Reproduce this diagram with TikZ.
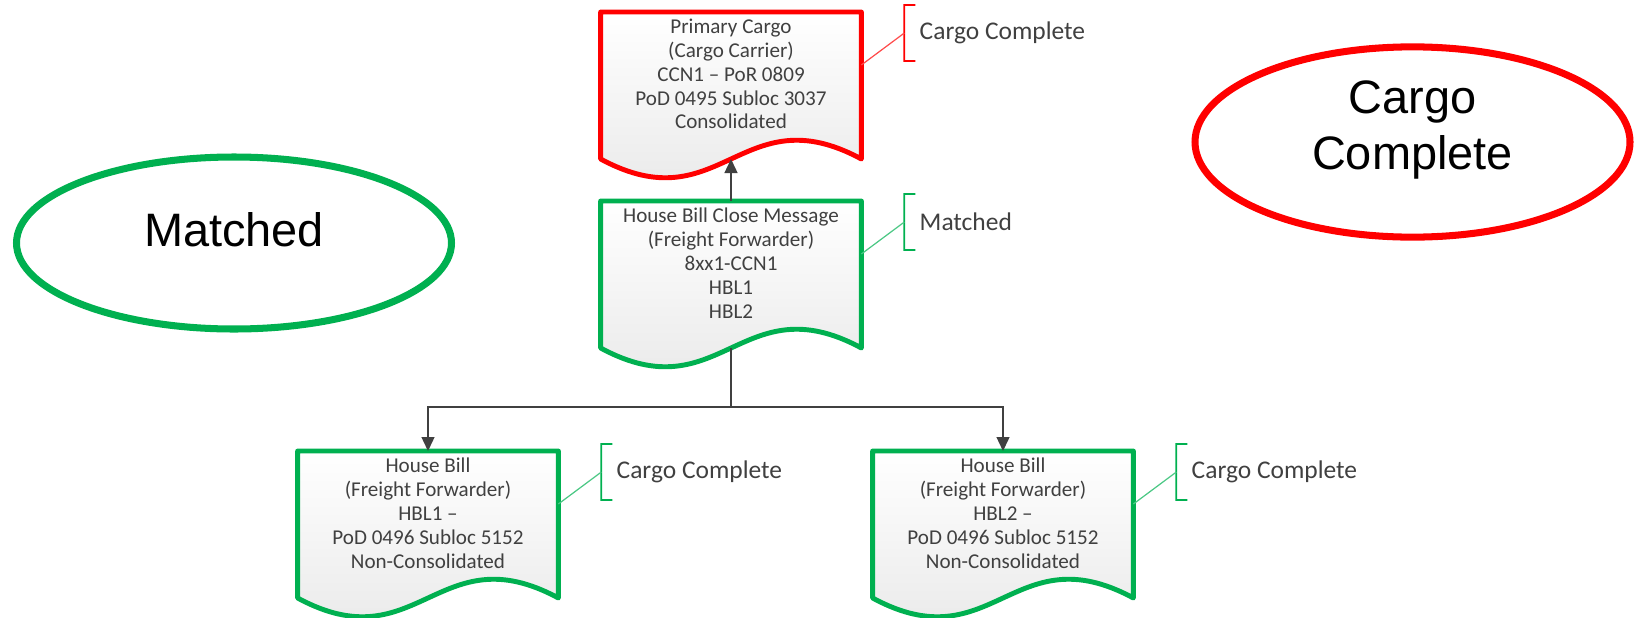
\documentclass[tikz,border=0pt]{standalone}
\usepackage{fontspec}
\setmainfont{Carlito}
\newfontfamily\arialfont{Liberation Sans}
\usetikzlibrary{arrows.meta, positioning, shapes.geometric, backgrounds}
\definecolor{cbgreen}{RGB}{0,176,80}
\definecolor{cbred}{RGB}{255,0,0}
\definecolor{cbgray}{RGB}{64,64,64}
\definecolor{cbfill}{RGB}{230,230,230}

\begin{document}
\begin{tikzpicture}[
    docbox/.style={anchor=north, minimum width=5.2cm, inner xsep=0.08cm,
      inner ysep=0.13cm, align=center, text=cbgray,
      font=\fontsize{12}{13.6}\selectfont},
    docline/.style={line width=2.8pt, line join=round,
      top color=white, bottom color=cbfill},
    note/.style={anchor=west, inner sep=0pt, text=cbgray,
      font=\fontsize{14.5}{17}\selectfont},
    status/.style={ellipse, line width=4pt, minimum width=8.7cm,
      minimum height=3.44cm, align=center,
      font=\arialfont\fontsize{26.7}{31.9}\selectfont},
    flow/.style={line width=0.8pt, cbgray,
      -{Triangle[length=0.28cm, width=0.26cm]}}]
  \useasboundingbox (0,0) rectangle (32.68,12.34);

  % Status ellipses
  \node[status, draw=cbgreen, text depth=0.56cm] (matched) at (4.68,7.48) {Matched};
  \node[status, draw=cbred, text depth=0.68cm] (complete) at (28.25,9.5) {Cargo\\Complete};

  % Documents
  \node[docbox] (pc) at (14.62,12.1)
    {Primary Cargo\\(Cargo Carrier)\\CCN1 – PoR 0809\\PoD 0495 Subloc 3037\\Consolidated};
  \node[docbox] (hbc) at (14.62,8.32)
    {House Bill Close Message\\(Freight Forwarder)\\8xx1-CCN1\\HBL1\\HBL2};
  \node[docbox] (hb1) at (8.56,3.32)
    {House Bill\\(Freight Forwarder)\\HBL1 –\\PoD 0496 Subloc 5152\\Non-Consolidated};
  \node[docbox] (hb2) at (20.06,3.32)
    {House Bill\\(Freight Forwarder)\\HBL2 –\\PoD 0496 Subloc 5152\\Non-Consolidated};

  % Annotations
  \node[note] (pc-note) at ([shift={(1.16,-0.42)}]pc.north east) {Cargo Complete};
  \node[note] (hbc-note) at ([shift={(1.16,-0.42)}]hbc.north east) {Matched};
  \node[note] (hb1-note) at ([shift={(1.16,-0.42)}]hb1.north east) {Cargo Complete};
  \node[note] (hb2-note) at ([shift={(1.16,-0.42)}]hb2.north east) {Cargo Complete};

  % Document outlines with wavy bottom, brackets
  \begin{scope}[on background layer]
    \foreach \n/\c in {pc/cbred, hbc/cbgreen, hb1/cbgreen, hb2/cbgreen} {
      \draw[docline, draw=\c] (\n.north west) -- (\n.north east)
        -- ([yshift=-2.94cm]\n.north east)
        .. controls +(-2.4,1.3) and +(2.4,-1.3) .. ([yshift=-2.94cm]\n.north west)
        -- cycle;
      \coordinate (\n-wave) at ([yshift=-2.94cm]\n.north);
      \coordinate (\n-brk) at ([xshift=-0.3cm]\n-note.west);
      \draw[\c, line width=1pt] ([shift={(0.22,0.56)}]\n-brk) -- ([yshift=0.56cm]\n-brk)
        -- ([yshift=-0.56cm]\n-brk) -- ([shift={(0.22,-0.56)}]\n-brk);
      \draw[\c!70, line width=0.7pt] ([yshift=-1.06cm]\n.north east) -- (\n-brk);
    }
  \end{scope}

  % Connectors
  \draw[flow] (hbc.north) -- (pc-wave);
  \coordinate (split) at ([yshift=-1.18cm]hbc-wave);
  \draw[flow] (hbc-wave) -- (split) -| (hb1.north);
  \draw[flow] (split) -| (hb2.north);
\end{tikzpicture}
\end{document}
